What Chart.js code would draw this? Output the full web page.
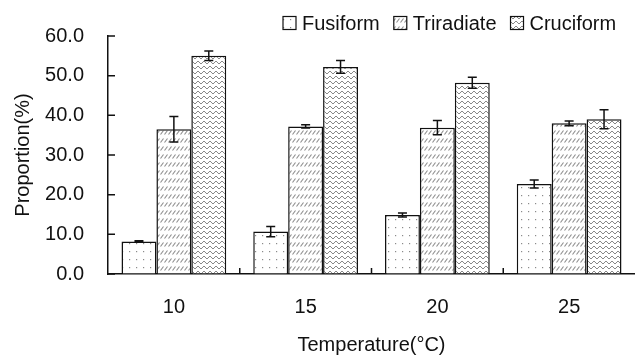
<!DOCTYPE html>
<html>
<head>
<meta charset="utf-8">
<script src="https://cdn.jsdelivr.net/npm/chart.js@4"></script>
<style>
  html, body { margin: 0; padding: 0; background: #fff; }
  #wrap { width: 635px; height: 359px; }
</style>
</head>
<body>
<div id="wrap"><canvas id="chart" width="635" height="359"></canvas></div>
<script>
// data
const temperatures = ['10', '15', '20', '25'];
const fusiform = [8.2, 10.7, 14.9, 22.7];
const fusiformErr = [0.2, 1.3, 0.5, 1.0];
const triradiate = [36.5, 37.2, 36.9, 38.0];
const triradiateErr = [3.2, 0.4, 1.8, 0.6];
const cruciform = [55.0, 52.2, 48.2, 39.0];
const cruciformErr = [1.2, 1.6, 1.4, 2.4];
const yTicks = [0, 10, 20, 30, 40, 50, 60];

const FONT = 'Liberation Sans, Arial, sans-serif';

// hatch patterns
function makePattern(w, h, draw) {
  const c = document.createElement('canvas');
  c.width = w; c.height = h;
  const g = c.getContext('2d');
  g.fillStyle = '#fff';
  g.fillRect(0, 0, w, h);
  draw(g);
  return g.createPattern(c, 'repeat');
}

const dots = makePattern(7, 8, g => {
  g.fillStyle = '#8a8a8a';
  g.fillRect(3, 3, 1.2, 1.2);
});

const slashes = makePattern(4, 8, g => {
  g.strokeStyle = '#8c8c8c';
  g.lineWidth = 1.1;
  g.beginPath();
  g.moveTo(0.5, 6.5);
  g.lineTo(3.5, 2.5);
  g.stroke();
});

const zigzag = makePattern(6, 5, g => {
  g.strokeStyle = '#888';
  g.lineWidth = 1;
  g.beginPath();
  g.moveTo(0, 1);
  g.lineTo(3, 4);
  g.lineTo(6, 1);
  g.stroke();
});

// error bars drawn at each bar through the y scale
const errorBars = {
  id: 'errorBars',
  afterDatasetsDraw(chart) {
    const ctx = chart.ctx;
    const y = chart.scales.y;
    ctx.save();
    ctx.strokeStyle = '#111';
    ctx.lineWidth = 1.5;
    chart.data.datasets.forEach((ds, i) => {
      chart.getDatasetMeta(i).data.forEach((bar, j) => {
        const v = ds.data[j], e = ds.err[j];
        const top = y.getPixelForValue(v + e);
        const bot = y.getPixelForValue(v - e);
        ctx.beginPath();
        ctx.moveTo(bar.x, top); ctx.lineTo(bar.x, bot);
        ctx.moveTo(bar.x - 4.5, top); ctx.lineTo(bar.x + 4.5, top);
        ctx.moveTo(bar.x - 4.5, bot); ctx.lineTo(bar.x + 4.5, bot);
        ctx.stroke();
      });
    });
    ctx.restore();
  }
};

// inward tick marks + legend at top right
const axisExtras = {
  id: 'axisExtras',
  afterDraw(chart) {
    const ctx = chart.ctx;
    const {x, y} = chart.scales;
    const area = chart.chartArea;
    ctx.save();
    ctx.strokeStyle = '#111';
    ctx.lineWidth = 1.5;
    ctx.beginPath();
    yTicks.forEach(t => {
      const py = y.getPixelForValue(t);
      ctx.moveTo(area.left, py); ctx.lineTo(area.left + 7, py);
    });
    for (let i = 1; i < temperatures.length; i++) {
      const px = (x.getPixelForTick(i - 1) + x.getPixelForTick(i)) / 2;
      ctx.moveTo(px, area.bottom); ctx.lineTo(px, area.bottom - 6);
    }
    ctx.stroke();

    // legend
    ctx.font = '20px ' + FONT;
    ctx.textBaseline = 'middle';
    let lx = 283;
    const ly = 23;
    chart.data.datasets.forEach(ds => {
      ctx.fillStyle = ds.backgroundColor;
      ctx.fillRect(lx, ly - 6.5, 13, 13);
      ctx.lineWidth = 1.2;
      ctx.strokeStyle = '#111';
      ctx.strokeRect(lx, ly - 6.5, 13, 13);
      ctx.fillStyle = '#111';
      ctx.fillText(ds.label, lx + 19, ly + 1);
      lx += 19 + ctx.measureText(ds.label).width + 14;
    });
    ctx.restore();
  }
};

function barSet(label, data, err, fill) {
  return {
    label: label,
    data: data,
    err: err,
    backgroundColor: fill,
    borderColor: '#111',
    borderWidth: 1.5,
    borderSkipped: 'bottom',
    barPercentage: 1.0,
    categoryPercentage: 0.795
  };
}

new Chart(document.getElementById('chart'), {
  type: 'bar',
  data: {
    labels: temperatures,
    datasets: [
      barSet('Fusiform', fusiform, fusiformErr, dots),
      barSet('Triradiate', triradiate, triradiateErr, slashes),
      barSet('Cruciform', cruciform, cruciformErr, zigzag)
    ]
  },
  options: {
    responsive: false,
    animation: false,
    layout: { padding: { left: 0, top: 19, right: -2, bottom: 0 } },
    plugins: {
      legend: { display: false },
      tooltip: { enabled: false }
    },
    scales: {
      x: {
        offset: true,
        grid: { display: true, drawOnChartArea: false, drawTicks: false },
        border: { display: true, color: '#111', width: 1.5 },
        ticks: { color: '#111', padding: 21, font: { family: FONT, size: 20 } },
        title: {
          display: true,
          text: 'Temperature(°C)',
          color: '#111',
          font: { family: FONT, size: 20 },
          padding: { top: 0, bottom: 1.5 }
        },
        afterFit(scale) { scale.height = 85; }
      },
      y: {
        min: 0,
        max: 60,
        grid: { display: true, drawOnChartArea: false, drawTicks: false },
        border: { display: true, color: '#111', width: 1.5 },
        ticks: {
          stepSize: 10,
          color: '#111',
          padding: 24,
          font: { family: FONT, size: 20 },
          callback: v => v.toFixed(1)
        },
        title: {
          display: true,
          text: 'Proportion(%)',
          color: '#111',
          font: { family: FONT, size: 20 },
          padding: { top: 11, bottom: 0 }
        },
        afterFit(scale) { scale.width = 108; }
      }
    }
  },
  plugins: [errorBars, axisExtras]
});
</script>
</body>
</html>
